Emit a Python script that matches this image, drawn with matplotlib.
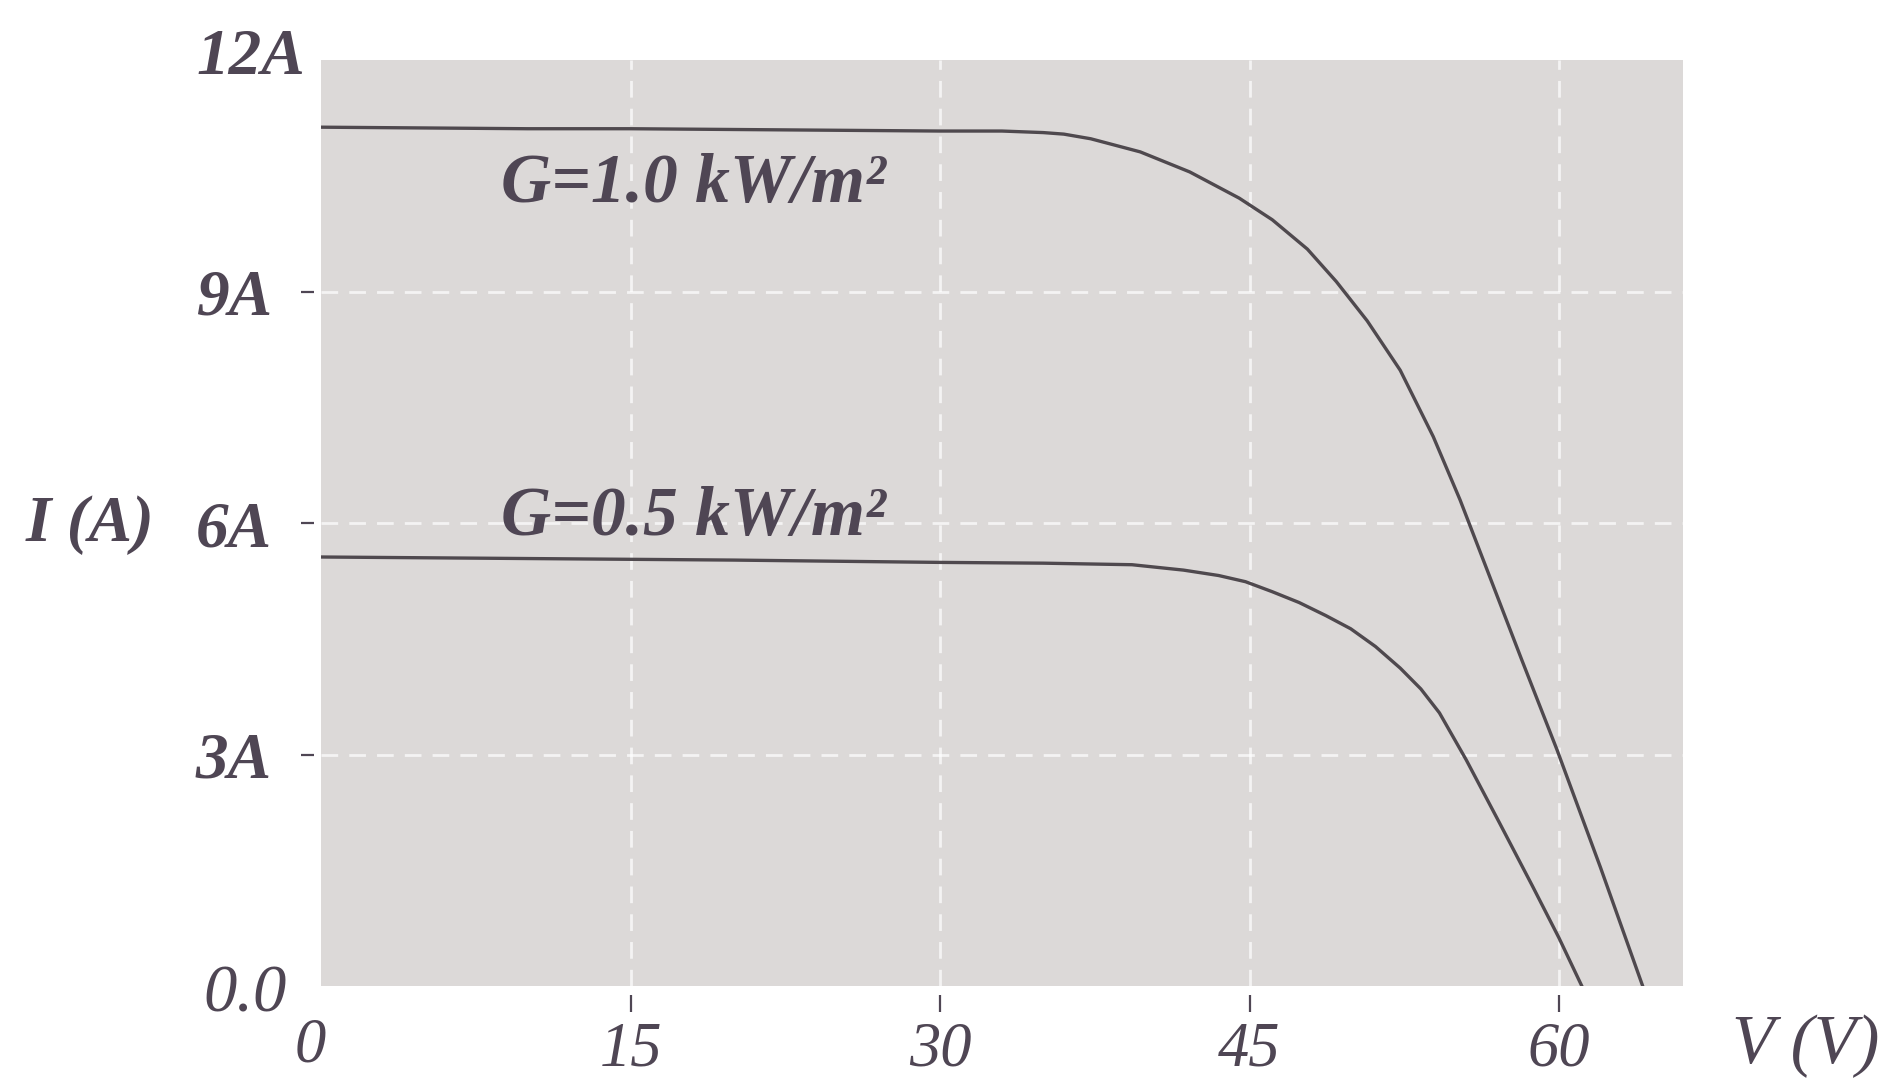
import matplotlib
matplotlib.use("Agg")
import matplotlib.pyplot as plt

# ---- data ----
v_g10 = [0, 5, 10, 15, 20, 25, 30, 33, 35, 36, 37.3, 39.7, 42.1, 44.5, 46.1, 47.8,
         49.2, 50.7, 52.3, 53.9, 55.2, 56.5, 58.2, 59.9, 62.0, 64.05]
i_g10 = [11.13, 11.12, 11.11, 11.11, 11.10, 11.09, 11.08, 11.08, 11.06, 11.04, 10.98,
         10.81, 10.55, 10.21, 9.93, 9.55, 9.13, 8.62, 7.98, 7.12, 6.30, 5.40, 4.22,
         3.06, 1.54, 0.0]

v_g05 = [0, 10, 20, 30, 35, 39.3, 41.8, 43.5, 44.8, 46.1, 47.4, 48.7, 49.9, 51.1,
         52.3, 53.3, 54.2, 55.5, 57.1, 58.7, 60.0, 61.1]
i_g05 = [5.56, 5.54, 5.52, 5.49, 5.48, 5.46, 5.39, 5.32, 5.24, 5.11, 4.97, 4.80, 4.63,
         4.40, 4.12, 3.85, 3.54, 2.93, 2.12, 1.30, 0.62, 0.0]

x_ticks = [0, 15, 30, 45, 60]
x_ticklabels = ["", "15", "30", "45", "60"]
y_ticks = [0, 3, 6, 9, 12]
y_ticklabels = ["", "3A", "6A", "9A", ""]

curve_labels = ["G=1.0 kW/m\u00b2", "G=0.5 kW/m\u00b2"]
curve_label_pos = [(8.7, 10.16), (8.7, 5.84)]

# ---- style ----
TXT = "#4f4654"
LINE = "#4f494e"
BG = "#dcd9d8"
FONT = ["Liberation Serif", "DejaVu Serif"]

fig = plt.figure(figsize=(18.85, 10.8), dpi=100)
fig.patch.set_facecolor("white")
ax = fig.add_axes([0.1703, 0.0870, 0.7225, 0.8574])
ax.set_facecolor(BG)
ax.set_xlim(0, 66)
ax.set_ylim(0, 12)

for s in ax.spines.values():
    s.set_visible(False)
ax.spines["left"].set_position(("outward", 5))
ax.spines["bottom"].set_position(("outward", 6.5))

ax.set_xticks(x_ticks)
ax.set_xticklabels(x_ticklabels)
ax.set_yticks(y_ticks)
ax.set_yticklabels(y_ticklabels)

ax.tick_params(axis="y", length=9.5, width=1.6, color=TXT, pad=21, labelcolor=TXT)
ax.tick_params(axis="x", length=12, width=1.6, color=TXT, pad=7, labelcolor=TXT)
for lab in ax.get_yticklabels():
    lab.set_fontfamily(FONT); lab.set_fontstyle("italic"); lab.set_fontweight("bold"); lab.set_fontsize(47)
for lab in ax.get_xticklabels():
    lab.set_fontfamily(FONT); lab.set_fontstyle("italic"); lab.set_fontsize(45)

ax.grid(True, color="white", linestyle=(0, (6, 4)), linewidth=2.0, alpha=0.7)
xt = ax.xaxis.get_major_ticks()
yt = ax.yaxis.get_major_ticks()
xt[0].tick1line.set_visible(False); xt[0].gridline.set_visible(False)
yt[0].tick1line.set_visible(False); yt[0].gridline.set_visible(False)
yt[-1].tick1line.set_visible(False); yt[-1].gridline.set_visible(False)

ax.plot(v_g10, i_g10, color=LINE, lw=2.4, solid_joinstyle="round")
ax.plot(v_g05, i_g05, color=LINE, lw=2.4, solid_joinstyle="round")

for txt, (x, y) in zip(curve_labels, curve_label_pos):
    ax.text(x, y, txt, fontfamily=FONT, fontstyle="italic", fontweight="bold",
            fontsize=50, color=TXT, ha="left", va="baseline")

common = dict(xycoords="data", textcoords="offset pixels", fontfamily=FONT,
              fontstyle="italic", color=TXT, annotation_clip=False)
ax.annotate("12A", xy=(0, 12), xytext=(-16, 2), ha="right", va="center",
            fontweight="bold", fontsize=47, **common)
ax.annotate("0.0", xy=(0, 0), xytext=(-34, -9), ha="right", va="center",
            fontsize=48, **common)
ax.annotate("0", xy=(0, 0), xytext=(-11, -60), ha="center", va="center",
            fontsize=45, **common)
ax.annotate("I (A)", xy=(0, 6), xytext=(-231, -2), ha="center", va="center",
            fontweight="bold", fontsize=47, **common)
ax.annotate("V (V)", xy=(66, 0), xytext=(123, -60), ha="center", va="center",
            fontsize=50, **common)

fig.savefig("out.png", dpi=100, facecolor="white")
